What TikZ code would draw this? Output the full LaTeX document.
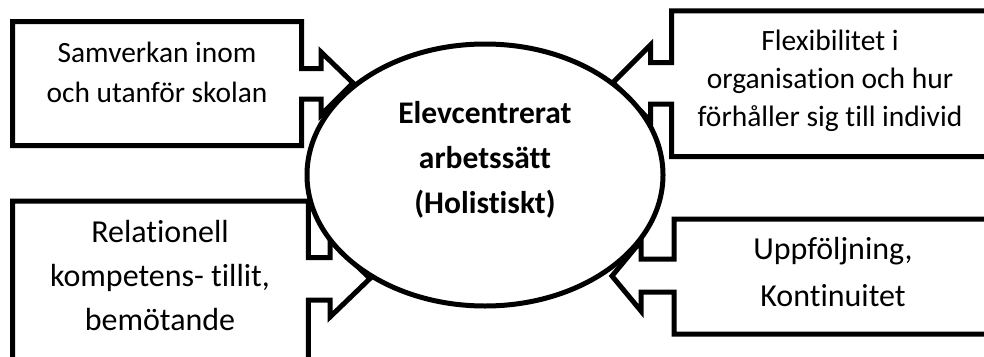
\documentclass[tikz,border=0pt]{standalone}
\usepackage{fontspec}
\setmainfont{Carlito}[Ligatures={NoCommon}]
\usetikzlibrary{shapes.geometric}
\begin{document}
\begin{tikzpicture}[x=1pt,y=-1pt,
  callout/.style={draw=black,fill=white,line width=5pt,line join=miter},
  boxtext/.style={align=center,inner sep=0pt,font=\fontsize{29.4}{40}\selectfont},
  hub/.style={ellipse,draw=black,fill=white,line width=5pt,minimum width=356pt,minimum height=262pt,inner sep=0pt}]
\useasboundingbox (0,0) rectangle (984,356);
\clip (0,0) rectangle (984,356);
\fill[white] (0,0) rectangle (984,356);
% top-left callout
\draw[callout] (12.5,21.5) -- (301.5,21.5) -- (301.5,68.5) -- (321,68.5) -- (321,52) -- (353,83)
  -- (321,115) -- (321,99) -- (301.5,99) -- (301.5,145.5) -- (12.5,145.5) -- cycle;
% top-right callout
\draw[callout] (995,10.8) -- (671.7,10.8) -- (671.7,62.5) -- (650.5,62.5) -- (650.5,45) -- (613,82.5)
  -- (650.5,121) -- (650.5,104) -- (671.7,104) -- (671.7,156.5) -- (995,156.5) -- cycle;
% bottom-left callout
\draw[callout] (12.5,201) -- (308.3,201) -- (308.3,257.7) -- (330,257.7) -- (330,240) -- (370,278.5)
  -- (330,317) -- (330,300) -- (308.3,300) -- (308.3,362) -- (12.5,362) -- cycle;
% bottom-right callout
\draw[callout] (995,219) -- (674,219) -- (674,259) -- (641,259) -- (641,241) -- (612,276)
  -- (641,311) -- (641,292) -- (674,292) -- (674,334) -- (995,334) -- cycle;
% central ellipse
\node[hub] (hubnode) at (485,175) {};
\node[boxtext,anchor=base,font=\fontsize{31.5}{45}\selectfont\bfseries] (hubtext) at (485,213)
  {Elevcentrerat\\arbetssätt\\(Holistiskt)};
\node[boxtext,anchor=base] (tl) at (157,102) {Samverkan inom\\och utanför skolan};
\node[boxtext,anchor=base,font=\fontsize{29.5}{38.3}\selectfont] (tr) at (830,126.7)
  {Flexibilitet i\\organisation och hur\\förhåller sig till individ};
\node[boxtext,anchor=base,font=\fontsize{32}{44.2}\selectfont] (bl) at (160,330.5)
  {Relationell\\kompetens- tillit,\\bemötande};
\node[boxtext,anchor=base,font=\fontsize{32}{47}\selectfont] (br) at (833,306)
  {Uppföljning,\\Kontinuitet};
\end{tikzpicture}
\end{document}
